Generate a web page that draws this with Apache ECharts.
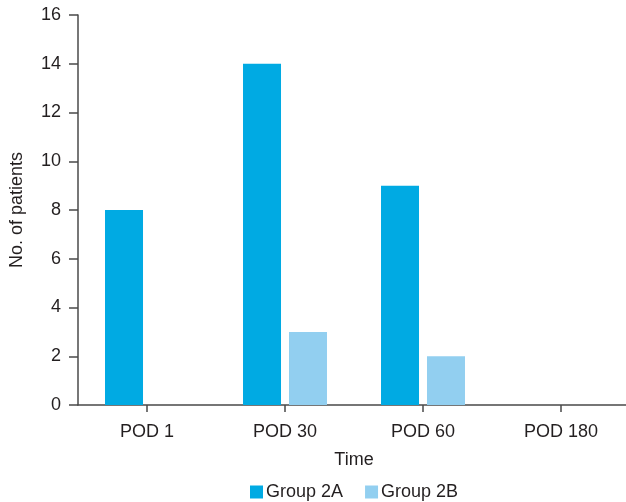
<!DOCTYPE html>
<html>
<head>
<meta charset="utf-8">
<script src="https://cdn.jsdelivr.net/npm/echarts@6/dist/echarts.min.js"></script>
<style>
html,body{margin:0;padding:0;background:#fff;}
#chart{width:626px;height:502px;}
</style>
</head>
<body>
<div id="chart"></div>
<script>
const categories = ['POD 1', 'POD 30', 'POD 60', 'POD 180'];
const group2A = [8, 14, 9, 0];
const group2B = [0, 3, 2, 0];
const seriesNames = ['Group 2A', 'Group 2B'];
const yTicks = { min: 0, max: 16, interval: 2 };

const textColor = '#231f20';
const axisColor = '#4a4a4a';
const font = 'Liberation Sans, Arial, Helvetica, sans-serif';
const fs = 18;

const chart = echarts.init(document.getElementById('chart'), null, { renderer: 'canvas' });
chart.setOption({
  animation: false,
  backgroundColor: '#ffffff',
  grid: { left: 78, right: -4, top: 15, bottom: 97, containLabel: false, outerBoundsMode: 'none' },
  legend: {
    data: seriesNames,
    top: 478,
    left: 245,
    itemWidth: 13,
    itemHeight: 13,
    itemGap: 22,
    icon: 'rect',
    textStyle: { color: textColor, fontSize: fs, fontFamily: font, padding: [0, 0, 0, -2] }
  },
  xAxis: {
    type: 'category',
    data: categories,
    name: 'Time',
    nameLocation: 'middle',
    nameGap: 46,
    nameTextStyle: { color: textColor, fontSize: fs, fontFamily: font },
    axisLine: { lineStyle: { color: axisColor, width: 1.5 } },
    axisTick: { show: true, alignWithLabel: true, length: 7, lineStyle: { color: axisColor, width: 1.5 } },
    axisLabel: { color: textColor, fontSize: fs, fontFamily: font, margin: 18 }
  },
  yAxis: {
    type: 'value',
    min: yTicks.min,
    max: yTicks.max,
    interval: yTicks.interval,
    name: 'No. of patients',
    nameLocation: 'middle',
    nameGap: 52,
    nameTextStyle: { color: textColor, fontSize: fs, fontFamily: font },
    axisLine: { show: true, lineStyle: { color: axisColor, width: 1.5 } },
    axisTick: { show: true, length: 9, lineStyle: { color: axisColor, width: 1.5 } },
    axisLabel: { color: textColor, fontSize: fs, fontFamily: font, margin: 17 },
    splitLine: { show: false }
  },
  series: [
    {
      name: seriesNames[0],
      type: 'bar',
      data: group2A,
      barWidth: 38,
      barGap: '21%',
      itemStyle: { color: '#00aae3' }
    },
    {
      name: seriesNames[1],
      type: 'bar',
      data: group2B,
      barWidth: 38,
      itemStyle: { color: '#92cff0' }
    }
  ]
});
</script>
</body>
</html>
